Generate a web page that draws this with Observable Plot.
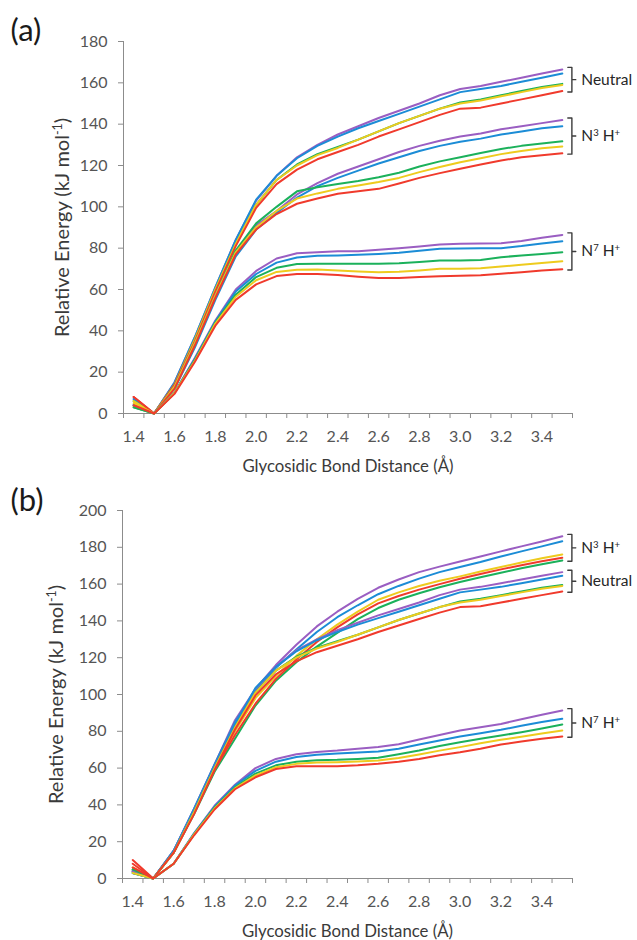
<!DOCTYPE html>
<html><head><meta charset="utf-8">
<script src="https://cdn.jsdelivr.net/npm/d3@7"></script>
<script src="https://cdn.jsdelivr.net/npm/@observablehq/plot@0.6"></script>
<style>
body{margin:0;background:#fff;}
#chart{width:637px;}
#chart svg{display:block;}
</style></head><body><div id="chart"></div>
<script>
// ---------- data ----------
const distance = [1.4,1.5,1.6,1.7,1.8,1.9,2.0,2.1,2.2,2.3,2.4,2.5,2.6,2.7,2.8,2.9,3.0,3.1,3.2,3.3,3.4,3.5];
const xTickLabels = ["1.4","1.6","1.8","2.0","2.2","2.4","2.6","2.8","3.0","3.2","3.4"];
const yTicksA = [0,20,40,60,80,100,120,140,160,180];
const yTicksB = [0,20,40,60,80,100,120,140,160,180,200];
const groupNames = ["Neutral","N³ H⁺","N⁷ H⁺"];
const seriesNames = ["series 1","series 2","series 3","series 4","series 5"];

// Neutral (same in both panels)
const neutral1 = [4,0,15,37,61,84,103,115,124,130,135,139,143,146.5,150,154,157,158.5,160.5,162.5,164.5,166.5];
const neutral2 = [4,0,15,37,61,84,103.5,115,123.5,129.5,134,138,141.5,145,148.5,152,155.5,157,158.5,160.5,162.5,164.5];
const neutral3 = [3,0,14,36,60,82,101,113,120.5,125.5,129,132.5,136.5,140.5,144,147.5,150.5,152,154,156,158,159.5];
const neutral4 = [3.5,0,14,36,60,82,101,113,120,125,128.5,132.5,136.5,140.5,144,147.5,150,151.5,153.5,155.5,157.5,159];
const neutral5 = [8,0,14,35,59,81,99.5,111,118,123,126.5,130,134,137.5,141,144.5,147.5,148,150,152,154,156];

// Panel (a) N3 H+
const a_n3_1 = [7,0,13,34,57,78,91,98,106,111.5,116,119.5,123,126.5,129.5,132,134,135.5,137.5,139,140.5,142];
const a_n3_2 = [7,0,12,32,55,76,89,97,104.5,110,114,117.5,121,124,127,129.5,131.5,133,135,136.5,138,139];
const a_n3_3 = [6,0,13,34,57,79,92,100,107.5,109.5,111,112.5,114.3,116.5,119.5,122,124,126,128,129.5,130.7,131.7];
const a_n3_4 = [6,0,13,34,57,78,90,98,104,106.5,108.7,110.3,112,114,116.8,119.3,121.6,123.5,125.5,127,128.3,129.2];
const a_n3_5 = [8,0,12,33,56,77,89,96.5,101.5,104,106.3,107.5,108.7,111.3,114,116.3,118.4,120.5,122.4,124,125,125.9];
// Panel (a) N7 H+
const a_n7_1 = [4,0,10,27,45,60,69,75,77.5,78,78.5,78.5,79.2,80,80.8,81.8,82.1,82.2,82.4,83.5,85,86.4];
const a_n7_2 = [4,0,10,26.5,44.5,59,67.5,73,75.5,76.3,76.5,76.8,77.2,77.8,78.7,79.7,79.8,79.9,80,81,82.3,83.4];
const a_n7_3 = [3,0,10,26,44,57.5,66,70.5,72.3,72.5,72.5,72.4,72.4,72.7,73.3,74,74,74.3,75.6,76.5,77.2,78];
const a_n7_4 = [5,0,10,25.5,43.5,56.5,64.5,68.5,69.6,69.7,69.2,68.7,68.4,68.6,69.2,70,70,70.3,71.1,72,72.8,73.7];
const a_n7_5 = [4,0,9.5,25,42.5,55,62.5,66.5,67.5,67.5,67,66.2,65.6,65.6,66,66.4,66.6,66.9,67.6,68.4,69.2,69.8];

// Panel (b) N3 H+
const b_n3_1 = [4,0,15,38,62,86,103,116,127,137,145,152,158,162.5,166.5,169.5,172.3,175,177.8,180.5,183.2,186];
const b_n3_2 = [3,0,15,38,62,85,102,114.5,124.5,134,142,148.5,154.5,159,163,166.5,169.3,172,175,177.8,180.5,183.3];
const b_n3_3 = [5,0,14,35,58,76,94,107.5,117.5,126,133.5,141,147,151.5,155,158.3,161.1,163.7,166.2,168.6,170.8,172.8];
const b_n3_4 = [6,0,14,36,60,80,98,110,121,130,138,145,151.5,155.5,159,161.8,164.2,166.8,169.3,171.7,174,176.1];
const b_n3_5 = [10,0,14,36,59,78,95,108.5,119,128.5,136.5,143.5,149.5,153.5,157,160,162.9,165.5,168,170.3,172.4,174.3];
// Panel (b) N7 H+
const b_n7_1 = [4,0,8,24.5,39.5,51,60,65,67.5,68.8,69.5,70.5,71.5,73,75.5,78,80.4,82.2,84,86.5,89,91.3];
const b_n7_2 = [3,0,8,24.5,39,50.5,58.5,63.5,66,67.3,68,68.5,69,70.5,72.8,75,77.2,79,80.8,83,85,86.8];
const b_n7_3 = [5,0,8,24,38.5,49.5,57,61.5,63.5,64.3,64.5,65,65.6,67.5,69.6,72,74.1,76,77.7,79.5,81.5,83.7];
const b_n7_4 = [3,0,8,24,38,49,56,60.5,62.3,63,63.2,63.6,64.1,65.5,67.4,69.5,71.4,73.5,75.4,77,78.8,80.4];
const b_n7_5 = [6,0,8,23.5,37.5,48.5,55,59.5,61,61,61,61.5,62.3,63.5,65,67,68.6,70.5,72.8,74.5,76,77.2];

// ---------- styles ----------
const palette = ["#9a5ec2","#1b8cd6","#1bb15b","#eecb1e","#f03a2c"];
const axisGrey = "#8c8c8c";
const tickText = "#555555";
const titleText = "#3a3a3a";
const FONT = "Lato, 'Open Sans', 'DejaVu Sans', sans-serif";

const panelA = {
  tag: "(a)",
  groups: [
    {name: groupNames[0], series: [neutral1,neutral2,neutral3,neutral4,neutral5]},
    {name: groupNames[1], series: [a_n3_1,a_n3_2,a_n3_3,a_n3_4,a_n3_5]},
    {name: groupNames[2], series: [a_n7_1,a_n7_2,a_n7_3,a_n7_4,a_n7_5]}
  ],
  yMax: 180, yTicks: yTicksA,
  layout: {marginLeft: 123, marginTop: 41, marginBottom: 57, yTitleDx: -61}
};
const panelB = {
  tag: "(b)",
  groups: [
    {name: groupNames[1], series: [b_n3_1,b_n3_2,b_n3_3,b_n3_4,b_n3_5]},
    {name: groupNames[0], series: [neutral1,neutral2,neutral3,neutral4,neutral5]},
    {name: groupNames[2], series: [b_n7_1,b_n7_2,b_n7_3,b_n7_4,b_n7_5]}
  ],
  yMax: 200, yTicks: yTicksB,
  layout: {marginLeft: 122, marginTop: 40, marginBottom: 62, yTitleDx: -66}
};

const supMap = {"⁻":"-","¹":"1","³":"3","⁷":"7","⁺":"+"};
function fixSup(svg){
  svg.querySelectorAll("text").forEach(t => {
    if (t.querySelector("tspan")) return;
    const s = t.textContent;
    if (![...s].some(c => c in supMap)) return;
    const runs = [];
    for (const c of s) {
      const sup = c in supMap, ch = sup ? supMap[c] : c;
      if (runs.length && runs[runs.length-1].sup === sup) runs[runs.length-1].s += ch;
      else runs.push({sup, s: ch});
    }
    t.textContent = "";
    for (const r of runs) {
      const ts = document.createElementNS("http://www.w3.org/2000/svg","tspan");
      ts.textContent = r.s;
      if (r.sup) { ts.setAttribute("baseline-shift","super"); ts.setAttribute("font-size","62%"); }
      t.appendChild(ts);
    }
  });
}

function makePanel(p){
  const step = distance[1] - distance[0];
  const xLo = distance[0] - step/2, xHi = distance[distance.length-1] + step/2;
  const boundaries = distance.map(d => d - step/2).concat([xHi]);
  const xEnd = distance[distance.length-1];
  const rows = [];
  const brackets = [], bracketLabels = [];
  p.groups.forEach((g, gi) => {
    g.series.forEach((vals, si) => {
      vals.forEach((v, i) => rows.push({x: distance[i], y: v, key: gi + "-" + si, color: palette[si]}));
    });
    const ends = g.series.map(v => v[v.length-1]);
    const lo = d3.min(ends) - 0.4, hi = d3.max(ends) + 1.0, mid = (lo + hi) / 2;
    const tipX = xEnd + 0.027, spineX = xEnd + 0.047, midX = xEnd + 0.066;
    [[tipX,hi],[spineX,hi],[spineX,mid],[midX,mid],[spineX,mid],[spineX,lo],[tipX,lo]]
      .forEach(([x,y]) => brackets.push({x, y, key: gi}));
    bracketLabels.push({x: xEnd, y: mid, text: g.name});
  });
  const L = p.layout;
  const svg = Plot.plot({
    width: 637, height: 470,
    marginLeft: L.marginLeft, marginRight: 637 - 572, marginTop: L.marginTop, marginBottom: L.marginBottom,
    x: {domain: [xLo, xHi], label: null},
    y: {domain: [0, p.yMax], label: null},
    color: {type: "identity"},
    style: {fontFamily: FONT, fontSize: "16px", background: "#fff", color: tickText, overflow: "visible"},
    marks: [
      Plot.axisX({ticks: boundaries, tickFormat: () => "", tickSize: 5, stroke: axisGrey, label: null}),
      Plot.axisX({ticks: xTickLabels.map(Number), tickFormat: d => d.toFixed(1), tickSize: 0, tickPadding: 17, fill: tickText, fontSize: 16, label: null}),
      Plot.axisY({ticks: p.yTicks, tickSize: 5, tickPadding: 11, stroke: axisGrey, fill: tickText, fontSize: 16, label: null}),
      Plot.ruleX([xLo], {stroke: axisGrey}),
      Plot.ruleY([0], {stroke: axisGrey}),
      Plot.line(rows, {x: "x", y: "y", z: "key", stroke: "color", strokeWidth: 2, strokeLinejoin: "round", curve: "linear"}),
      Plot.line(brackets, {x: "x", y: "y", z: "key", stroke: "#3c3c3c", strokeWidth: 1.4, strokeLinejoin: "round"}),
      Plot.text(bracketLabels, {x: "x", y: "y", text: "text", dx: 19, textAnchor: "start", lineAnchor: "middle", fontSize: 15.5, fill: "#262626"}),
      Plot.text(["Glycosidic Bond Distance (Å)"], {frameAnchor: "bottom", text: d => d, dy: 53, textAnchor: "middle", lineAnchor: "middle", fontSize: 16.8, fill: titleText}),
      Plot.text(["Relative Energy (kJ mol⁻¹)"], {frameAnchor: "left", text: d => d, rotate: -90, dx: L.yTitleDx, textAnchor: "middle", lineAnchor: "middle", fontSize: 20, fill: titleText}),
      Plot.text([p.tag], {frameAnchor: "top-left", text: d => d, dx: -L.marginLeft + 10, dy: -L.marginTop + 31, textAnchor: "start", lineAnchor: "middle", fontSize: 31, fill: "#1a1a1a"})
    ]
  });
  fixSup(svg);
  return svg;
}

const root = document.getElementById("chart");
root.appendChild(makePanel(panelA));
root.appendChild(makePanel(panelB));
</script>
</body></html>
